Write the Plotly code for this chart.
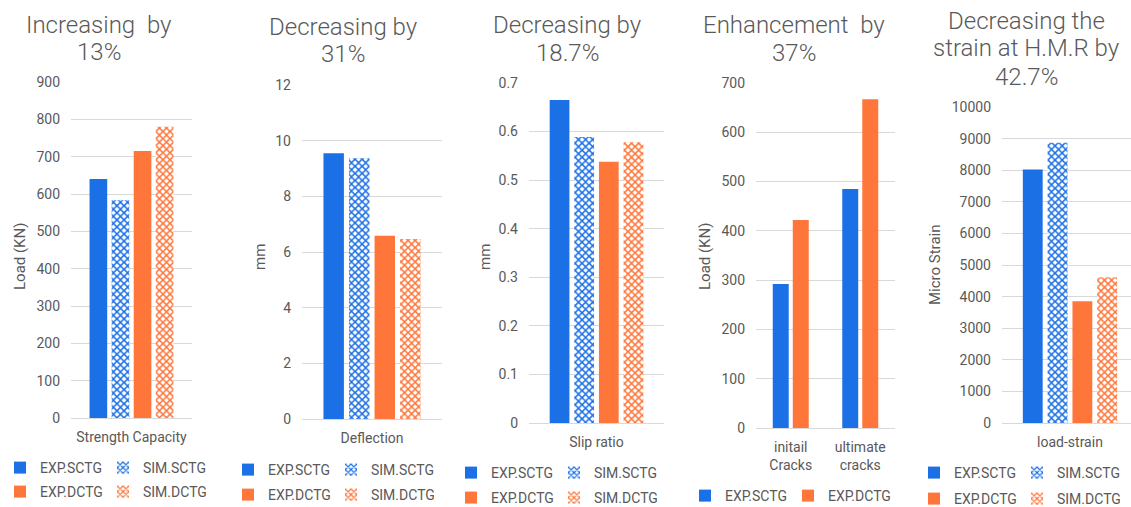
import plotly.graph_objects as go

# ---- data -------------------------------------------------------------
strength_cat = ["Strength Capacity"]
strength_exp_sctg = [640]
strength_sim_sctg = [583]
strength_exp_dctg = [715]
strength_sim_dctg = [780]

deflection_cat = ["Deflection"]
deflection_exp_sctg = [9.55]
deflection_sim_sctg = [9.37]
deflection_exp_dctg = [6.58]
deflection_sim_dctg = [6.47]

slip_cat = ["Slip ratio"]
slip_exp_sctg = [0.665]
slip_sim_sctg = [0.589]
slip_exp_dctg = [0.538]
slip_sim_dctg = [0.578]

crack_cat = ["initail<br>Cracks", "ultimate<br>cracks"]
crack_exp_sctg = [292, 485]
crack_exp_dctg = [422, 667]

strain_cat = ["load-strain"]
strain_exp_sctg = [8020]
strain_sim_sctg = [8870]
strain_exp_dctg = [3850]
strain_sim_dctg = [4610]

title_lines = [
    ["Increasing \u00a0by", "13%"],
    ["Decreasing by", "31%"],
    ["Decreasing by", "18.7%"],
    ["Enhancement \u00a0by", "37%"],
    ["Decreasing the", "strain at H.M.R by", "42.7%"],
]
y_titles = ["Load (KN)", "mm", "mm", "Load (KN)", "Micro Strain"]

# ---- style ------------------------------------------------------------
W, H = 1131, 507
BLUE = "#1C70E6"
ORANGE = "#FF763A"
GRID = "#D9D9D9"
TEXT = "#595959"
FONT = "Roboto"


def fx(p):
    return p / W


def fy(p):
    return 1 - p / H


def checker(color):
    return dict(shape="x", fgcolor=color, bgcolor="white",
                fillmode="replace", size=5, solidity=0.5)


fig = go.Figure()

# panel plot areas in pixels: (left, right, top, bottom)
panels = [
    (71, 192, 82, 418),
    (302, 442, 85, 419),
    (529, 664, 83, 423),
    (756, 895, 83, 428),
    (1002, 1131, 107, 423),
]
y_ranges = [[0, 900], [0, 12], [0, 0.7], [0, 700], [0, 10000]]
y_dticks = [100, 2, 0.1, 100, 1000]

four_series = [
    (strength_cat, strength_exp_sctg, strength_sim_sctg, strength_exp_dctg, strength_sim_dctg),
    (deflection_cat, deflection_exp_sctg, deflection_sim_sctg, deflection_exp_dctg, deflection_sim_dctg),
    (slip_cat, slip_exp_sctg, slip_sim_sctg, slip_exp_dctg, slip_sim_dctg),
    None,
    (strain_cat, strain_exp_sctg, strain_sim_sctg, strain_exp_dctg, strain_sim_dctg),
]

legend_rows = {}
leg_count = 0


def new_legend(x_px, y_px):
    global leg_count
    leg_count += 1
    key = "legend" if leg_count == 1 else f"legend{leg_count}"
    legend_rows[key] = dict(
        x=fx(x_px), y=fy(y_px), xref="container", yref="container",
        xanchor="left", yanchor="middle",
        orientation="h", bgcolor="rgba(0,0,0,0)", borderwidth=0,
        font=dict(family=FONT, size=14, color=TEXT),
        itemwidth=30, tracegroupgap=0, itemclick=False,
        entrywidth=58, entrywidthmode="pixels",
    )
    return key


# legend row anchors: (left, first row centre, second row centre)
legend_pos = [
    (-16, 468, 492),
    (228, 470, 495),
    (451, 473, 498),
    (685, 496, None),
    (914, 473, 499),
]

for i, series in enumerate(four_series):
    ax = "" if i == 0 else str(i + 1)
    xref, yref = "x" + ax, "y" + ax
    lx, r1, r2 = legend_pos[i]
    if series is not None:
        cat, e_s, s_s, e_d, s_d = series
        l1 = new_legend(lx, r1)
        l2 = new_legend(lx, r2)
        fig.add_trace(go.Bar(x=cat, y=e_s, name="EXP.SCTG", marker_color=BLUE,
                             marker_line_width=0, xaxis=xref, yaxis=yref, legend=l1))
        fig.add_trace(go.Bar(x=cat, y=s_s, name="SIM.SCTG", marker_color=BLUE,
                             marker_pattern=checker(BLUE), marker_line_width=0,
                             xaxis=xref, yaxis=yref, legend=l1))
        fig.add_trace(go.Bar(x=cat, y=e_d, name="EXP.DCTG", marker_color=ORANGE,
                             marker_line_width=0, xaxis=xref, yaxis=yref, legend=l2))
        fig.add_trace(go.Bar(x=cat, y=s_d, name="SIM.DCTG", marker_color=ORANGE,
                             marker_pattern=checker(ORANGE), marker_line_width=0,
                             xaxis=xref, yaxis=yref, legend=l2))
    else:
        l1 = new_legend(lx, r1)
        fig.add_trace(go.Bar(x=crack_cat, y=crack_exp_sctg, name="EXP.SCTG",
                             marker_color=BLUE, marker_line_width=0,
                             width=0.23, offset=-0.259,
                             xaxis=xref, yaxis=yref, legend=l1))
        fig.add_trace(go.Bar(x=crack_cat, y=crack_exp_dctg, name="EXP.DCTG",
                             marker_color=ORANGE, marker_line_width=0,
                             width=0.23, offset=0.029,
                             xaxis=xref, yaxis=yref, legend=l1))

    left, right, top, bottom = panels[i]
    xaxis = dict(
        domain=[fx(left), fx(right)], anchor=yref, type="category",
        showline=True, linecolor=GRID, linewidth=1, ticks="",
        showgrid=False, zeroline=False, automargin=False,
        tickfont=dict(family=FONT, size=14, color=TEXT),
        ticklabelstandoff=6,
    )
    if i == 4:
        xaxis["range"] = [-0.5, 0.449]
    yaxis = dict(
        domain=[fy(bottom), fy(top)], anchor=xref,
        range=y_ranges[i], dtick=y_dticks[i], tick0=0, tickformat="~r" if i == 2 else "d",
        showgrid=True, gridcolor=GRID, gridwidth=1, automargin=False,
        zeroline=False, showline=False, ticks="",
        tickfont=dict(family=FONT, size=14, color=TEXT),
        ticklabelstandoff=10,
    )
    fig.update_layout({"xaxis" + ax: xaxis, "yaxis" + ax: yaxis})

# panel headings (one annotation per line) and vertical axis captions
title_x = [99, 343, 567, 794, 1026]
title_y = [[25, 52], [27, 54], [25, 53], [25, 53], [21, 48, 77]]
ytitle_pos = [(20, 257), (260, 257), (485, 257), (705, 257), (935, 265)]
for i in range(5):
    for line, ly in zip(title_lines[i], title_y[i]):
        fig.add_annotation(text=line, x=fx(title_x[i]), y=fy(ly), xref="paper", yref="paper",
                           xanchor="center", yanchor="middle", showarrow=False,
                           font=dict(family=FONT, size=24, color=TEXT, weight=300))
    yx, yy = ytitle_pos[i]
    fig.add_annotation(text=y_titles[i], x=fx(yx), y=fy(yy), xref="paper", yref="paper",
                       xanchor="center", yanchor="middle", showarrow=False, textangle=-90,
                       font=dict(family=FONT, size=15, color=TEXT))

fig.update_layout(
    width=W, height=H,
    margin=dict(l=0, r=0, t=0, b=0, autoexpand=False),
    paper_bgcolor="white", plot_bgcolor="white",
    barmode="group", bargap=0.27, bargroupgap=0.2,
    font=dict(family=FONT, color=TEXT),
    **legend_rows,
)

fig.write_html("out.html")
